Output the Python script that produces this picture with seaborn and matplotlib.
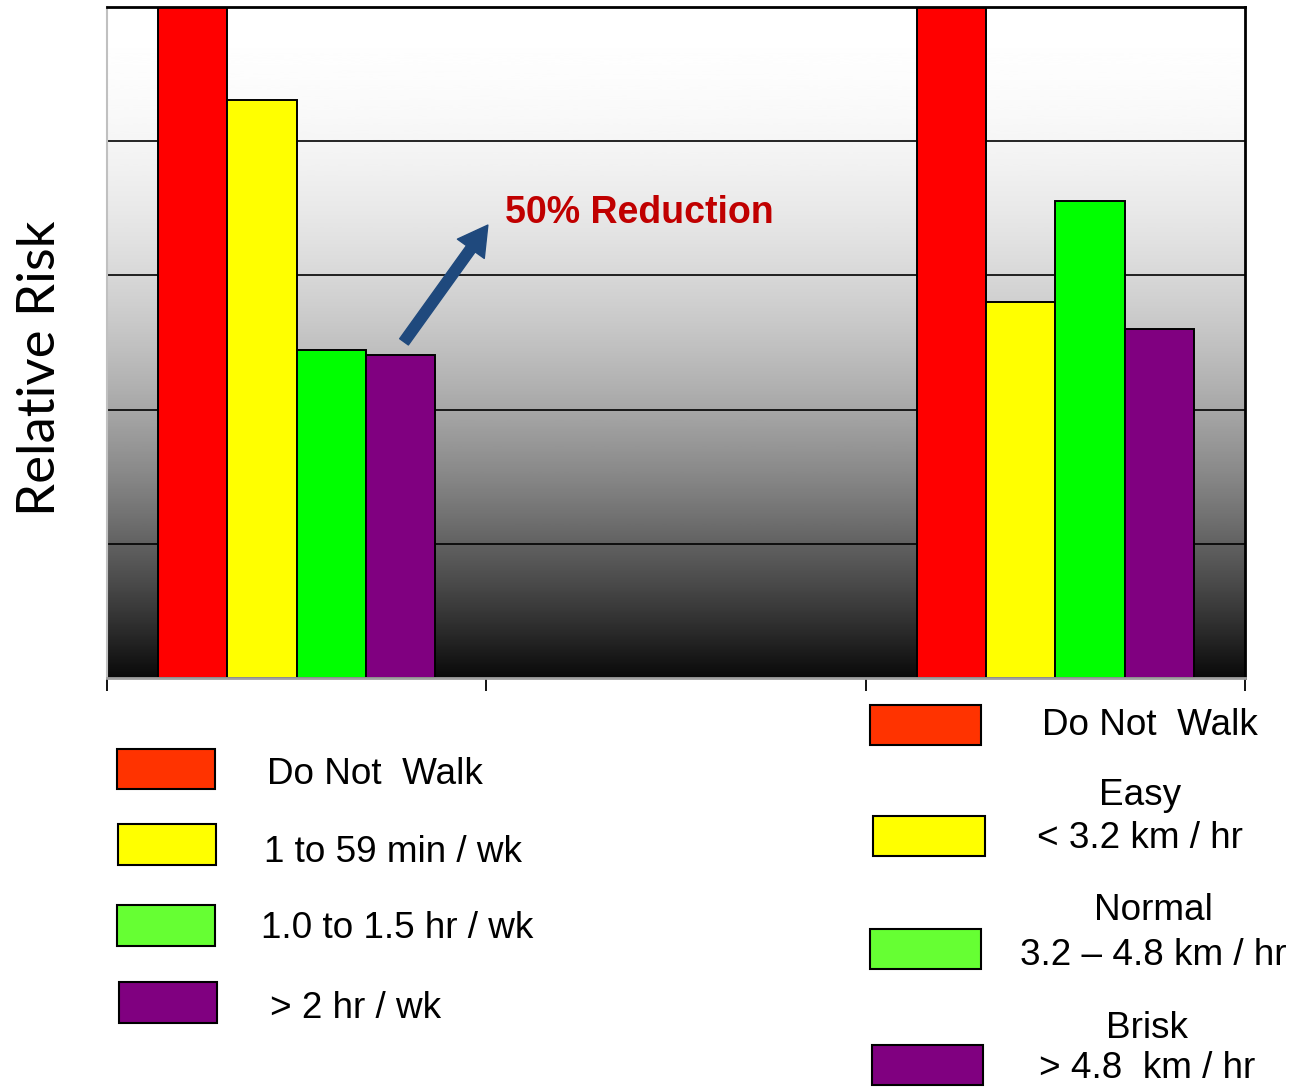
import numpy as np
import pandas as pd
import matplotlib
matplotlib.use("Agg")
import matplotlib.pyplot as plt
import seaborn as sns
from matplotlib.patches import Rectangle

# Relative risk by walking time (left group) and walking pace (right group)
groups = ["Time", "Gap", "Pace"]
levels = ["None", "Low", "Mid", "High"]
time_risk = [1.0, 0.861, 0.489, 0.481]
pace_risk = [1.0, 0.560, 0.711, 0.520]
bar_colors = ["#FF0000", "#FFFF00", "#00FF00", "#800080"]

legend_colors = ["#FF3300", "#FFFF00", "#66FF33", "#800080"]
time_labels = ["Do Not  Walk", "1 to 59 min / wk", "1.0 to 1.5 hr / wk", "> 2 hr / wk"]
pace_labels = [["Do Not  Walk"], ["Easy", "< 3.2 km / hr"],
               ["Normal", "3.2 \u2013 4.8 km / hr"], ["Brisk", "> 4.8  km / hr"]]
y_label = "Relative Risk"
note_text = "50% Reduction"

df = pd.DataFrame({
    "group": ["Time"] * 4 + ["Pace"] * 4,
    "level": levels * 2,
    "risk": time_risk + pace_risk,
})

sns.set_theme(style="white")
plt.rcParams["font.family"] = ["Liberation Sans", "DejaVu Sans"]

W, H = 1293, 1087
fig = plt.figure(figsize=(W / 100, H / 100), dpi=100)
ax = fig.add_axes([107 / W, 1 - 678 / H, (1245 - 107) / W, (678 - 7) / H])

# vertical white-to-black background
t = np.linspace(0, 1, 400)[:, None]
grad = 1 - 0.96 * t ** 2
ax.imshow(grad, extent=(-0.5, 2.5, 0, 1), aspect="auto", cmap="gray",
          vmin=0, vmax=1, zorder=0, interpolation="bicubic")

sns.barplot(data=df, x="group", y="risk", hue="level", order=groups,
            hue_order=levels, palette=bar_colors, saturation=1, width=0.73,
            edgecolor="black", linewidth=1.4, legend=False, ax=ax)

ax.set_xlim(-0.5, 2.5)
ax.set_ylim(0, 1)
ax.set_axisbelow(True)
ax.set_yticks([0.2, 0.4, 0.6, 0.8])
ax.set_yticklabels([])
ax.yaxis.grid(True, color="black", linewidth=1.2)
ax.xaxis.grid(False)
ax.set_xticks([-0.5, 0.5, 1.5, 2.5])
ax.set_xticklabels([])
ax.tick_params(axis="x", length=9, width=1.3, color="black", direction="out", bottom=True)
ax.tick_params(axis="y", length=0)
ax.set_xlabel("")
ax.set_ylabel("")

for side, col, lw in [("top", "black", 2.0), ("right", "black", 2.0),
                      ("left", "#C0C0C0", 1.5), ("bottom", "#A0A0A0", 2.0)]:
    ax.spines[side].set_visible(True)
    ax.spines[side].set_color(col)
    ax.spines[side].set_linewidth(lw)

# annotation arrow and note
ax.annotate("", xy=(0.504, 0.675), xytext=(0.283, 0.501),
            arrowprops=dict(arrowstyle="simple,head_length=1.5,head_width=1.7,tail_width=0.55",
                            mutation_scale=14, color="#1F497D", shrinkA=0, shrinkB=0),
            zorder=5)
ax.text(0.549, 0.693, note_text, ha="left", va="center", fontsize=27,
        fontweight="bold", color="#C00000", zorder=5)

fig.text(41 / W, 1 - 368 / H, y_label, rotation=90, ha="center", va="center",
         fontsize=38, family=["Lato", "DejaVu Sans"], color="black")


def key(x0, y0, x1, y1, color):
    fig.patches.append(Rectangle((x0 / W, 1 - y1 / H), (x1 - x0) / W, (y1 - y0) / H,
                                 transform=fig.transFigure, facecolor=color,
                                 edgecolor="black", linewidth=1.5))


# left legend: walking time
left_boxes = [(117, 749, 215, 789), (118, 824, 216, 865), (117, 905, 215, 946), (119, 982, 217, 1023)]
left_text = [(267, 784), (264, 862), (261, 938), (270, 1018)]
for box, (tx, ty), lab, col in zip(left_boxes, left_text, time_labels, legend_colors):
    key(*box, col)
    fig.text(tx / W, 1 - ty / H, lab, ha="left", va="baseline", fontsize=26.6, color="black")

# right legend: walking pace
right_boxes = [(870, 705, 981, 745), (873, 816, 985, 856), (870, 929, 981, 969), (872, 1045, 983, 1085)]
right_text = [(1150, [735]), (1140, [805, 848]), (1153, [920, 965]), (1147, [1038, 1078])]
for box, (tx, tys), labs, col in zip(right_boxes, right_text, pace_labels, legend_colors):
    key(*box, col)
    for ty, lab in zip(tys, labs):
        fig.text(tx / W, 1 - ty / H, lab, ha="center", va="baseline", fontsize=26.6, color="black")

fig.savefig("out.png", dpi=100)
